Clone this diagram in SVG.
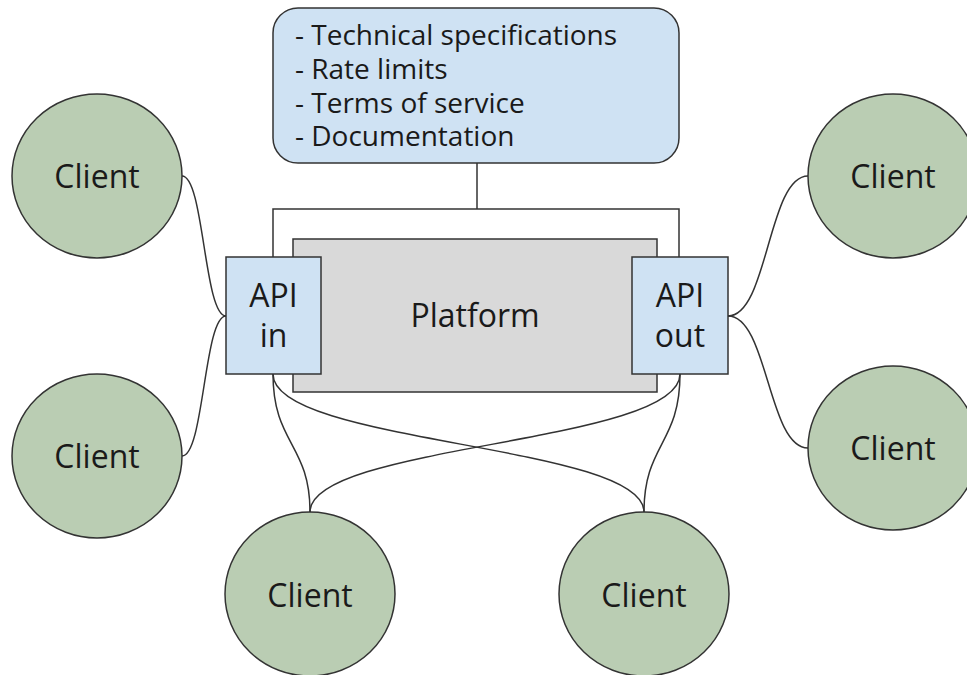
<svg xmlns="http://www.w3.org/2000/svg" width="967" height="675" viewBox="0 0 967 675">
<style>
.t{font-family:"Open Sans","Noto Sans","DejaVu Sans",sans-serif;fill:#1a1a1a}
.big{font-size:32px;text-anchor:middle}
.list{font-size:28px}
.client{fill:#bacdb3;stroke:#333;stroke-width:1.5}
.api{fill:#cfe2f3;stroke:#333;stroke-width:1.5}
.conn path{fill:none;stroke:#333;stroke-width:1.5}
</style>
<rect width="967" height="675" fill="#fff"/>
<g id="container">
<rect x="273" y="209" width="406" height="110" fill="#fff" stroke="#333" stroke-width="1.5"/>
</g>
<g id="platform">
<rect x="293" y="239" width="364" height="153" fill="#d9d9d9" stroke="#333" stroke-width="1.5"/>
<text class="t big" x="475" y="327">Platform</text>
</g>
<g class="conn" id="connectors">
<path d="M477,163 V209"/>
<path d="M182,176 C204,176 204,316 226,316"/>
<path d="M182,456 C204,456 204,316 226,316"/>
<path d="M728,316 C768,316 768,176 808,176"/>
<path d="M728,316 C768,316 768,448 808,448"/>
<path d="M273,374 C273,444 310,444 310,512"/>
<path d="M273,374 C273,444 644,444 644,512"/>
<path d="M680,374 C680,444 310,444 310,512"/>
<path d="M680,374 C680,444 644,444 644,512"/>
</g>
<g id="info">
<rect x="273" y="8" width="406" height="155" rx="25" ry="25" class="api"/>
<text class="t list" x="295" y="45">- Technical specifications</text>
<text class="t list" x="295" y="79">- Rate limits</text>
<text class="t list" x="295" y="112.5">- Terms of service</text>
<text class="t list" x="295" y="146">- Documentation</text>
</g>
<g id="api-in">
<rect x="226" y="257" width="95" height="117" class="api"/>
<text class="t big" x="273.5" y="307">API</text>
<text class="t big" x="273.5" y="347">in</text>
</g>
<g id="api-out">
<rect x="632" y="257" width="96" height="117" class="api"/>
<text class="t big" x="680" y="307">API</text>
<text class="t big" x="680" y="347">out</text>
</g>
<g id="client-left-top">
<ellipse cx="97" cy="176" rx="85" ry="82" class="client"/>
<text class="t big" x="97" y="187.5">Client</text>
</g>
<g id="client-left-bottom">
<ellipse cx="97" cy="456" rx="85" ry="82" class="client"/>
<text class="t big" x="97" y="467.5">Client</text>
</g>
<g id="client-right-top">
<ellipse cx="893" cy="176" rx="85" ry="82" class="client"/>
<text class="t big" x="893" y="187.5">Client</text>
</g>
<g id="client-right-bottom">
<ellipse cx="893" cy="448" rx="85" ry="82" class="client"/>
<text class="t big" x="893" y="459.5">Client</text>
</g>
<g id="client-bottom-left">
<ellipse cx="310" cy="594" rx="85" ry="82" class="client"/>
<text class="t big" x="310" y="607">Client</text>
</g>
<g id="client-bottom-right">
<ellipse cx="644" cy="594" rx="85" ry="82" class="client"/>
<text class="t big" x="644" y="607">Client</text>
</g>
</svg>
